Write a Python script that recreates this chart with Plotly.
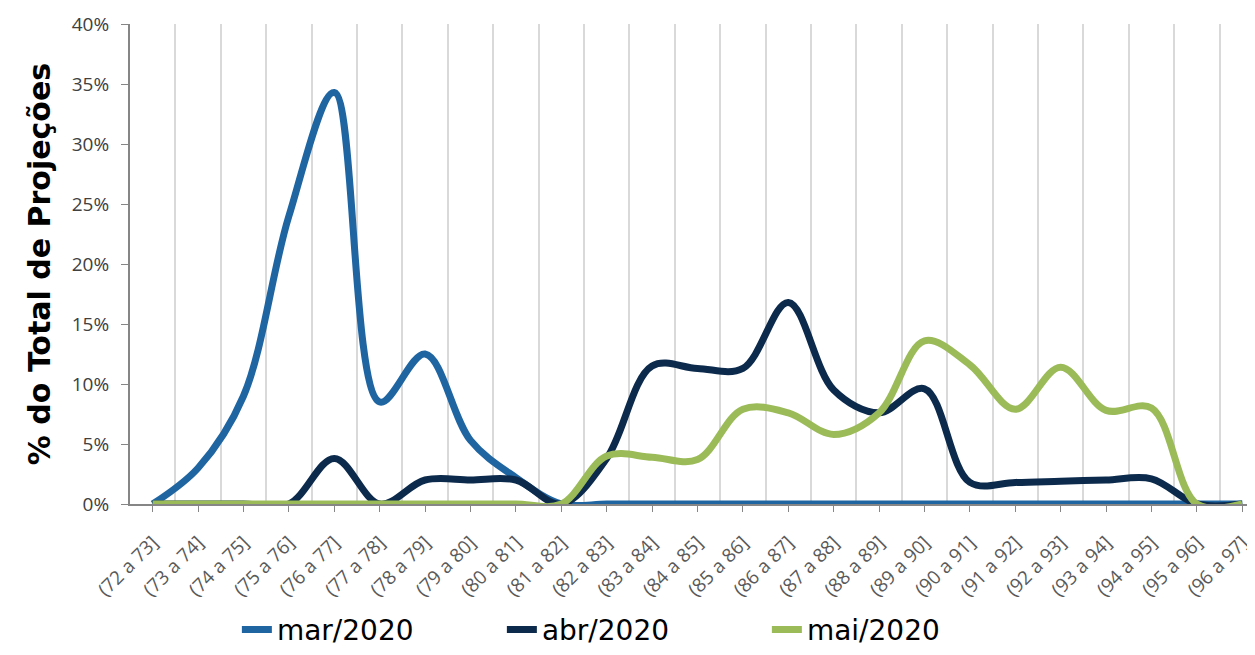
import plotly.graph_objects as go

# Faixas de valores (categorias do eixo x)
faixas = ["(72 a 73]", "(73 a 74]", "(74 a 75]", "(75 a 76]", "(76 a 77]",
          "(77 a 78]", "(78 a 79]", "(79 a 80]", "(80 a 81]", "(81 a 82]",
          "(82 a 83]", "(83 a 84]", "(84 a 85]", "(85 a 86]", "(86 a 87]",
          "(87 a 88]", "(88 a 89]", "(89 a 90]", "(90 a 91]", "(91 a 92]",
          "(92 a 93]", "(93 a 94]", "(94 a 95]", "(95 a 96]", "(96 a 97]"]

# % do total de projecoes por mes
mar_2020 = [0.0, 3.0, 9.0, 24.0, 34.3, 8.5, 12.5, 5.3, 2.2, 0.0,
            0.0, 0.0, 0.0, 0.0, 0.0, 0.0, 0.0, 0.0, 0.0, 0.0,
            0.0, 0.0, 0.0, 0.0, 0.0]
abr_2020 = [0.0, 0.0, 0.0, 0.0, 3.8, 0.0, 2.0, 2.0, 2.0, 0.0,
            3.8, 11.5, 11.3, 11.3, 16.8, 9.5, 7.6, 9.6, 1.8, 1.8,
            1.9, 2.0, 2.1, 0.0, 0.0]
mai_2020 = [0.0, 0.0, 0.0, 0.0, 0.0, 0.0, 0.0, 0.0, 0.0, 0.0,
            4.0, 3.9, 3.7, 7.9, 7.6, 5.8, 7.6, 13.6, 11.6, 7.9,
            11.4, 7.8, 8.0, 0.0, 0.0]

series = [
    ("mar/2020", mar_2020, "#1F65A1"),
    ("abr/2020", abr_2020, "#0C2A4C"),
    ("mai/2020", mai_2020, "#9BBB59"),
]

x_idx = list(range(len(faixas)))

fig = go.Figure()
for nome, valores, cor in series:
    fig.add_trace(go.Scatter(
        x=x_idx,
        y=[v / 100 for v in valores],
        name=nome,
        mode="lines",
        line=dict(color=cor, width=7, shape="spline", smoothing=1.0),
    ))

# the page body has an 8px margin, so the figure is a bit smaller
fig.update_layout(
    width=1247,
    height=647,
    margin=dict(l=122, r=0, t=16, b=143),
    plot_bgcolor="white",
    paper_bgcolor="white",
    font=dict(family="Open Sans", color="#404040"),
    showlegend=True,
    legend=dict(
        orientation="h",
        x=0.095, xanchor="left",
        y=-0.262, yanchor="middle",
        font=dict(family="DejaVu Sans", size=28, color="#000000"),
        entrywidth=220,
        tracegroupgap=0,
    ),
)

fig.update_xaxes(
    range=[-0.5, 24.28],
    automargin=False,
    tickmode="array",
    tickvals=x_idx,
    ticktext=faixas,
    tickangle=-45,
    tickfont=dict(size=19, color="#595959"),
    ticklabeloverflow="allow",
    ticklabelstandoff=12,
    ticks="outside",
    ticklen=6,
    tickcolor="#868686",
    showline=True,
    linecolor="#868686",
    linewidth=2,
    showgrid=False,
    zeroline=False,
    minor=dict(tick0=0.5, dtick=1, showgrid=True, gridcolor="#D9D9D9",
               gridwidth=2, ticks=""),
)

fig.update_yaxes(
    range=[0, 0.40],
    automargin=False,
    tickmode="array",
    tickvals=[0, 0.05, 0.10, 0.15, 0.20, 0.25, 0.30, 0.35, 0.40],
    tickformat=".0%",
    tickfont=dict(size=19, color="#404040"),
    ticks="outside",
    ticklen=7,
    tickcolor="#868686",
    ticklabelstandoff=8,
    showline=True,
    linecolor="#868686",
    linewidth=2,
    showgrid=False,
    zeroline=False,
    title=dict(text="% do Total de Projeções",
               font=dict(family="DejaVu Sans", size=30, color="#000000",
                         weight="bold"),
               standoff=12),
)

fig.write_html("out.html")
